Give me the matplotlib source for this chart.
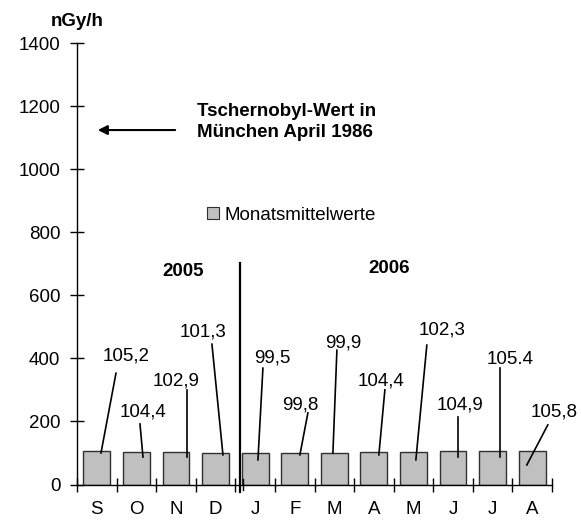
import matplotlib
matplotlib.use("Agg")
import matplotlib.pyplot as plt
from matplotlib.patches import Patch

plt.rcParams['font.family'] = ['Liberation Sans', 'DejaVu Sans']

# ---- data ----
months = ["S", "O", "N", "D", "J", "F", "M", "A", "M", "J", "J", "A"]
values = [105.2, 104.4, 102.9, 101.3, 99.5, 99.8, 99.9, 104.4, 102.3, 104.9, 105.4, 105.8]
value_labels = ["105,2", "104,4", "102,9", "101,3", "99,5", "99,8", "99,9",
                "104,4", "102,3", "104,9", "105.4", "105,8"]
y_ticks = [0, 200, 400, 600, 800, 1000, 1200, 1400]
tschernobyl_value = 1124
series_name = "Monatsmittelwerte"
years = ["2005", "2006"]
unit = "nGy/h"
annotation = "Tschernobyl-Wert in\nMünchen April 1986"

# ---- label layout (text position, leader start, leader end) ----
label_text_pos = [(0.737, 407), (1.167, 230), (2.0, 328), (2.682, 484), (4.424, 401),
                  (5.131, 252), (6.217, 449), (7.177, 328), (8.717, 490), (9.172, 252),
                  (10.434, 395), (11.545, 230)]
leader_start = [(0.485, 353), (1.091, 192), (2.278, 300), (2.909, 445), (4.197, 369),
                (5.333, 227), (6.066, 426), (7.278, 300), (8.338, 442), (9.121, 214),
                (10.182, 369), (11.394, 189)]
leader_end = [(0.106, 100), (1.167, 87), (2.278, 87), (3.187, 94), (4.071, 78),
              (5.131, 94), (5.965, 100), (7.126, 94), (8.061, 78), (9.121, 87),
              (10.182, 87), (10.864, 62)]

FS = 13.5
W, H = 581, 520
fig = plt.figure(figsize=(W / 100, H / 100), dpi=100)
ax = fig.add_axes([77 / W, (H - 484.5) / H, (552 - 77) / W, (484.5 - 43) / H])

x = list(range(len(months)))
ax.bar(x, values, width=0.68, color="#C0C0C0", edgecolor="#303030", linewidth=1.0, zorder=2)

ax.set_xlim(-0.5, len(months) - 0.5)
ax.set_ylim(0, 1400)
ax.set_yticks(y_ticks)
ax.set_yticklabels([str(v) for v in y_ticks], fontsize=FS)
ax.tick_params(axis='y', direction='inout', length=10, width=1, pad=7)

ax.set_xticks(x)
ax.set_xticklabels(months, fontsize=FS)
ax.set_xticks([i - 0.5 for i in range(len(months) + 1)], minor=True)
ax.tick_params(axis='x', which='major', length=0, pad=12)
ax.tick_params(axis='x', which='minor', direction='inout', length=10, width=1)

for s in ["top", "right"]:
    ax.spines[s].set_visible(False)
for s in ["left", "bottom"]:
    ax.spines[s].set_linewidth(1)

# value labels with leader lines
for lab, tp, ls, le in zip(value_labels, label_text_pos, leader_start, leader_end):
    ax.text(tp[0], tp[1], lab, ha='center', va='center', fontsize=FS, zorder=4)
    ax.plot([ls[0], le[0]], [ls[1], le[1]], color='black', lw=1.2, zorder=3)

# year divider
ax.plot([3.616, 3.616], [702, -24], color='black', lw=1.6, clip_on=False, zorder=3)
ax.plot([3.7, 3.7], [-16, 16], color='black', lw=1, clip_on=False, zorder=3)
ax.text(2.177, 677, years[0], ha='center', va='center', fontsize=FS, fontweight='bold')
ax.text(7.379, 686, years[1], ha='center', va='center', fontsize=FS, fontweight='bold')

# Tschernobyl annotation
ax.annotate("", xy=(-0.045, tschernobyl_value), xytext=(2.05, tschernobyl_value),
            arrowprops=dict(arrowstyle='-|>', color='black', lw=1.5, mutation_scale=14))
ax.text(2.53, 1149, annotation, ha='left', va='center', fontsize=FS,
        fontweight='bold', linespacing=1.3)

# legend
ax.legend(handles=[Patch(facecolor="#C0C0C0", edgecolor="#303030", linewidth=0.8,
                         label=series_name)],
          loc='center left', bbox_to_anchor=(207 / W, (H - 215.5) / H),
          bbox_transform=fig.transFigure, frameon=False, fontsize=FS,
          handlelength=0.62, handleheight=0.62, handletextpad=0.32, borderpad=0,
          borderaxespad=0)

fig.text(77 / W, (H - 22) / H, unit, ha='center', va='center', fontsize=FS, fontweight='bold')

fig.savefig("out.png", dpi=100)
